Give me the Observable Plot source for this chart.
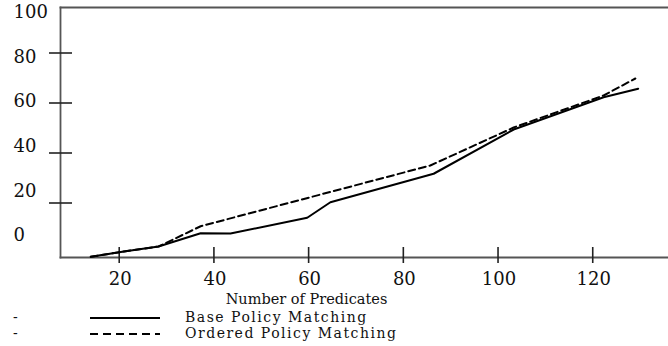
<!DOCTYPE html>
<html><head><meta charset="utf-8">
<script src="https://cdn.jsdelivr.net/npm/d3@7"></script>
<script src="https://cdn.jsdelivr.net/npm/@observablehq/plot@0.6"></script>
<style>
body{margin:0;background:#fff;font-family:"DejaVu Serif",serif;}
#wrap{position:relative;width:668px;height:346px;overflow:hidden;}
.row{position:absolute;left:0;width:668px;height:16px;font-size:14px;color:#111;line-height:16px;letter-spacing:1.5px;}
.row .dash{position:absolute;left:13px;top:0;}
.row svg{position:absolute;left:90px;top:0;}
.row .lab{position:absolute;left:185px;top:0;white-space:nowrap;}
</style></head><body>
<div id="wrap"><div id="chart"></div><div id="legend"></div></div>
<script>
const xTicks = [20, 40, 60, 80, 100, 120];
const yTicks = [20, 40, 60, 80];
const yLabels = [0, 20, 40, 60, 80, 100];
const xLabel = "Number of Predicates";
const seriesNames = ["Base Policy Matching", "Ordered Policy Matching"];

const baseX = [14, 21, 28.3, 37.2, 43.5, 59.7, 64.6, 86.4, 103.3, 122.3, 129.6];
const baseY = [-1.5, 0.6, 2.6, 7.9, 7.8, 14.1, 20.3, 31.7, 49.4, 62.3, 65.7];
const orderedX = [14, 21, 28.3, 37.2, 85.7, 103.3, 122.3, 129];
const orderedY = [-1.5, 0.6, 2.6, 10.7, 35, 50.2, 63, 69.8];

const base = baseX.map((x, i) => ({x, y: baseY[i]}));
const ordered = orderedX.map((x, i) => ({x, y: orderedY[i]}));

const axisColor = "#555";
const textColor = "#111";

const plot = Plot.plot({
  width: 668, height: 305,
  marginTop: 7, marginBottom: 48, marginLeft: 60, marginRight: 0,
  style: {fontFamily: '"DejaVu Serif", serif', background: "#fff", overflow: "visible", color: textColor},
  x: {domain: [7.6, 136], axis: null},
  y: {domain: [-1.8, 98.2], axis: null},
  marks: [
    Plot.frame({anchor: "top", stroke: axisColor, strokeWidth: 1.8}),
    Plot.frame({anchor: "left", stroke: axisColor, strokeWidth: 1.8}),
    Plot.frame({anchor: "bottom", stroke: axisColor, strokeWidth: 1.8}),
    Plot.tickX(xTicks, {x: d => d, insetTop: 240, insetBottom: -6, stroke: "#222", strokeWidth: 1.6}),
    Plot.tickY(yTicks, {y: d => d, insetRight: 585, dx: -11, stroke: "#222", strokeWidth: 1.6}),
    Plot.text(xTicks, {x: d => d, text: d => String(d), frameAnchor: "bottom", lineAnchor: "top", dy: 15, dx: 1, fontSize: 18, fill: textColor, style: "letter-spacing:2px"}),
    Plot.text(yLabels, {y: d => 7 + 0.893 * d, text: d => String(d), frameAnchor: "left", textAnchor: "start", dx: -47, fontSize: 18, fill: textColor, style: "letter-spacing:2px"}),
    Plot.text([xLabel], {frameAnchor: "bottom", dx: -58, dy: 46, fontSize: 14.5, fill: textColor, style: "letter-spacing:1.1px"}),
    Plot.line(base, {x: "x", y: "y", stroke: "#000", strokeWidth: 2}),
    Plot.line(ordered, {x: "x", y: "y", stroke: "#000", strokeWidth: 2, strokeDasharray: "7,4"})
  ]
});
document.getElementById("chart").appendChild(plot);

const legend = d3.select("#legend");
seriesNames.forEach((name, i) => {
  const row = legend.append("div").attr("class", "row").style("top", (309 + i * 16) + "px");
  row.append("span").attr("class", "dash").text("-");
  const s = row.append("svg").attr("width", 72).attr("height", 16);
  s.append("line").attr("x1", 0).attr("x2", 70).attr("y1", 9).attr("y2", 9)
    .attr("stroke", "#000").attr("stroke-width", 2)
    .attr("stroke-dasharray", i === 0 ? null : "8,5");
  row.append("span").attr("class", "lab").text(name);
});
</script>
</body></html>
